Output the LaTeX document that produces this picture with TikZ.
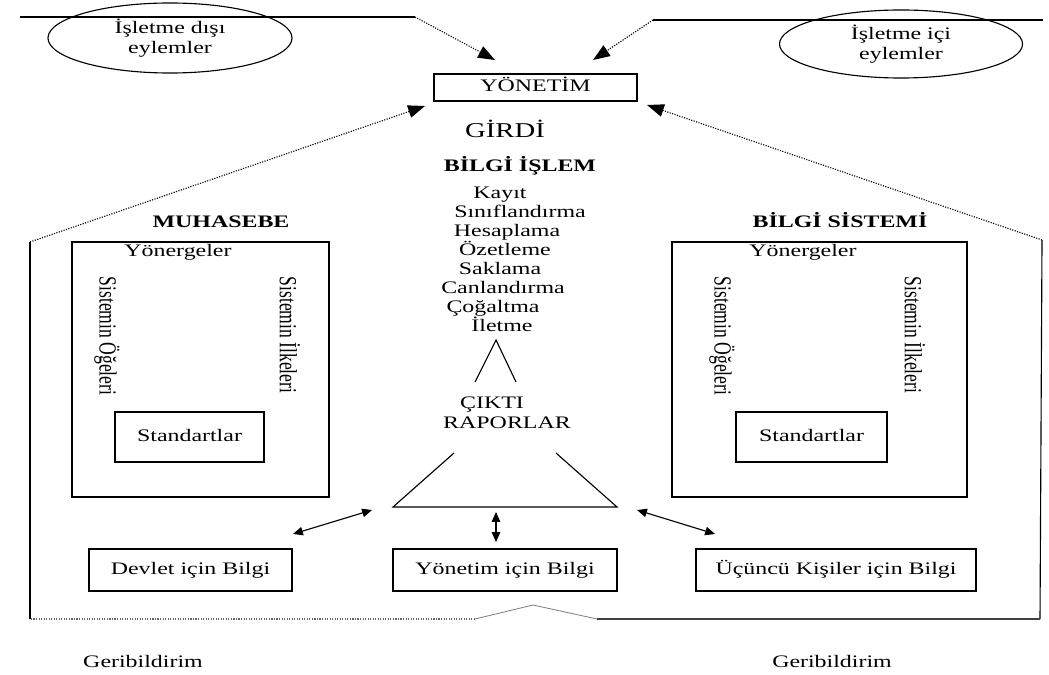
\documentclass[tikz,border=0pt]{standalone}
\usepackage{fontspec}
\setmainfont[FakeStretch=1.36]{Liberation Serif}
\newfontfamily\plainfont{Liberation Serif}
\usepackage{graphicx}
\usetikzlibrary{positioning, shapes.geometric, arrows.meta}
\tikzset{
  font=\fontsize{12.5}{14.5}\selectfont,
  % Set arrowhead
  >={Triangle[length=12pt, width=9pt]},
  % Small double arrow
  darr/.style={<->, >={Triangle[length=7pt, width=6pt]}},
  % Text label
  lbl/.style={inner sep=0pt, text height=1.5ex, text depth=.25ex},
  % Heading
  head/.style={lbl, font=\fontsize{12.5}{14.5}\selectfont\bfseries},
  % Box node
  box/.style={draw, inner sep=0pt, text height=1.5ex, text depth=.25ex},
  % Event ellipse
  event/.style={draw, ellipse, inner sep=0pt, align=center},
  % Rotated side label
  side/.style={rotate=-90, inner sep=0pt},
  % Feedback line
  fb/.style={densely dotted},
}
\newcommand{\sidetext}[1]{\scalebox{1}[1.4]{\plainfont #1}}

\begin{document}
\begin{tikzpicture}[x=0.025cm, y=-0.025cm, line width=0.8pt]
  \useasboundingbox (0,0) rectangle (1049,675);

  % events and management
  \node[event, minimum width=6.1cm, minimum height=1.75cm] (dis) at (170,38) {İşletme dışı\\eylemler};
  \node[event, minimum width=6.075cm, minimum height=1.7cm] (ic) at (901,44) {İşletme içi\\eylemler};
  \node[box, minimum width=5.075cm, minimum height=0.675cm] (yon) at (535.5,87.5) {YÖNETİM};

  \coordinate (tl0) at (20,17);
  \coordinate (tl1) at (415,17);
  \coordinate (tl2) at (495,60);
  \coordinate (tr0) at (1043,20);
  \coordinate (tr1) at (653,20);
  \coordinate (tr2) at (593,60);
  \draw (tl0) -- (tl1);
  \draw[fb, ->] (tl1) -- (tl2);
  \draw (tr0) -- (tr1);
  \draw[fb, ->] (tr1) -- (tr2);

  % feedback frame
  \coordinate (fl) at (30,242);
  \coordinate (fr) at (1042,240);
  \coordinate (bl) at (30,619);
  \coordinate (br) at (1040,619);
  \coordinate (bm1) at (475,619);
  \coordinate (bpk) at (533,605);
  \coordinate (bm2) at (597,619);
  \coordinate (yl) at (425,106);
  \coordinate (yr) at (647,105);
  \draw[fb, ->] (fl) -- (yl);
  \draw[fb, ->] (fr) -- (yr);
  \draw (fl) -- (bl);
  \draw (fr) -- (br);
  \draw[black!75] (br) -- (bm2);
  \draw[gray, line width=0.6pt] (bm2) -- (bpk) -- (bm1);
  \draw[fb, black!60] (bm1) -- (bl);

  % accounting
  \node[head] (muh) at (221,223) {MUHASEBE};
  \node[box, minimum width=6.425cm, minimum height=6.375cm] (muhbox) at (200.5,369.5) {};
  \node[lbl] (muhyon) at (178,252) {Yönergeler};
  \node[side] (muhoge) at (107,336) {\sidetext{Sistemin Öğeleri}};
  \node[side] (muhilk) at (290,335) {\sidetext{Sistemin İlkeleri}};
  \node[box, minimum width=3.725cm, minimum height=1.25cm] (muhstd) at (189.5,437) {Standartlar\hspace{14pt}};

  % information system
  \node[head] (bs) at (840,223) {BİLGİ SİSTEMİ};
  \node[box, minimum width=7.375cm, minimum height=6.375cm] (bsbox) at (819.5,369.5) {};
  \node[lbl] (bsyon) at (803,252) {Yönergeler};
  \node[side] (bsoge) at (722,336) {\sidetext{Sistemin Öğeleri}};
  \node[side] (bsilk) at (915,335) {\sidetext{Sistemin İlkeleri}};
  \node[box, minimum width=3.775cm, minimum height=1.25cm] (bsstd) at (811.5,437) {Standartlar};

  % processing
  \node[lbl, font=\fontsize{15}{17}\selectfont] (girdi) at (505,133) {GİRDİ};
  \node[head] (islem) at (520,167) {BİLGİ İŞLEM};
  \node[lbl] (kayit) at (500,194) {Kayıt};
  \node[lbl] (sinif) at (520,213) {Sınıflandırma};
  \node[lbl] (hesap) at (507,232) {Hesaplama};
  \node[lbl] (ozet) at (505,251) {Özetleme};
  \node[lbl] (sakla) at (500,270) {Saklama};
  \node[lbl] (canl) at (503,289) {Canlandırma};
  \node[lbl] (cogal) at (493,308) {Çoğaltma};
  \node[lbl] (ilet) at (502,327) {İletme};

  \coordinate (v1) at (475,382);
  \coordinate (v2) at (496,340);
  \coordinate (v3) at (516,382);
  \draw (v1) -- (v2) -- (v3);

  \node[lbl] (cikti) at (492,404) {ÇIKTI};
  \node[lbl] (rapor) at (507,424) {RAPORLAR};

  \coordinate (t1) at (454,453);
  \coordinate (t2) at (393,507);
  \coordinate (t3) at (617,507);
  \coordinate (t4) at (556,453);
  \draw (t1) -- (t2) -- (t3) -- (t4);

  % users of information
  \node[box, minimum width=5.075cm, minimum height=1.05cm] (devlet) at (190.5,570) {Devlet için Bilgi};
  \node[box, minimum width=5.6cm, minimum height=1.05cm] (yonb) at (505,570) {Yönetim için Bilgi};
  \node[box, minimum width=7cm, minimum height=1.05cm] (ucb) at (836,570) {Üçüncü Kişiler için Bilgi};

  \coordinate (a1) at (372,510);
  \coordinate (a2) at (293,534);
  \coordinate (b1) at (496,512);
  \coordinate (b2) at (496,542);
  \coordinate (c1) at (637,510);
  \coordinate (c2) at (715,534);
  \draw[darr] (a1) -- (a2);
  \draw[darr] (b1) -- (b2);
  \draw[darr] (c1) -- (c2);

  \node[lbl] (gbl) at (143,663) {Geribildirim};
  \node[lbl] (gbr) at (832,663) {Geribildirim};
\end{tikzpicture}
\end{document}
